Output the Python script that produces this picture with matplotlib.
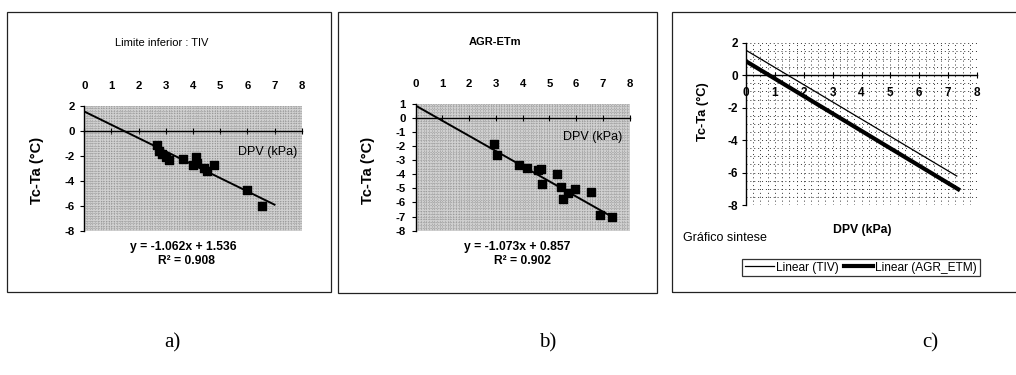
import matplotlib
matplotlib.use("Agg")
import matplotlib.pyplot as plt
from matplotlib.patches import Rectangle
from matplotlib.ticker import MultipleLocator
from matplotlib.lines import Line2D

plt.rcParams['font.family'] = ['Liberation Sans', 'DejaVu Sans']
plt.rcParams['axes.unicode_minus'] = False

# dados lidos do gráfico
# a) Limite inferior : TIV
dpv_tiv = [2.66, 2.76, 2.85, 3.0, 3.13, 3.64, 3.99, 4.11, 4.16, 4.4, 4.5, 4.77, 6.0, 6.54]
tcta_tiv = [-1.12, -1.6, -1.86, -2.13, -2.31, -2.23, -2.71, -2.13, -2.58, -2.98, -3.24, -2.77, -4.76, -5.98]
coef_tiv = (-1.062, 1.536)
r2_tiv = 0.908
xfim_tiv = 7.0

# b) AGR-ETm
dpv_agr = [2.94, 3.03, 3.86, 4.15, 4.58, 4.68, 4.71, 5.27, 5.45, 5.52, 5.7, 5.95, 6.55, 6.89, 7.35]
tcta_agr = [-1.88, -2.66, -3.36, -3.55, -3.72, -3.6, -4.66, -4.02, -4.94, -5.76, -5.36, -5.08, -5.29, -6.89, -7.01]
coef_agr = (-1.073, 0.857)
r2_agr = 0.902
xfim_agr = 7.3

# c) grafico sintese
xfim_c_tiv = 7.3
xfim_c_agr = 7.35

xticks = [0, 1, 2, 3, 4, 5, 6, 7, 8]
yticks_a = [2, 0, -2, -4, -6, -8]
yticks_b = [1, 0, -1, -2, -3, -4, -5, -6, -7, -8]
yticks_c = [2, 0, -2, -4, -6, -8]

W, H = 1016, 375
fig = plt.figure(figsize=(W / 100, H / 100), dpi=100)


def fx(px):
    return px / W


def fy(py):
    return 1 - py / H


# molduras
for x0, y0, x1, y1 in [(7, 12, 331, 292), (338, 12, 657, 293), (672, 12, 1030, 292)]:
    fig.patches.append(Rectangle((fx(x0), fy(y1)), fx(x1 - x0), (y1 - y0) / H,
                                 transform=fig.transFigure, fill=False,
                                 edgecolor='#222222', lw=0.9))


def painel_pontos(ax, xs, ys, coef, xfim, yticks, ylim):
    ax.set_xlim(0, 8)
    ax.set_ylim(*ylim)
    ax.set_facecolor('#cfcfcf')
    ax.xaxis.set_minor_locator(MultipleLocator(0.1))
    ax.yaxis.set_minor_locator(MultipleLocator(0.2))
    ax.grid(which='both', color='#7a7a7a', lw=0.45, ls=':')
    ax.set_axisbelow(True)
    for s in ['top', 'right']:
        ax.spines[s].set_visible(False)
    ax.spines['bottom'].set_position(('data', 0))
    ax.spines['bottom'].set_linewidth(1.0)
    ax.spines['left'].set_linewidth(1.0)
    ax.set_xticks(xticks)
    ax.set_yticks(yticks)
    ax.tick_params(axis='x', which='major', direction='inout', length=5,
                   bottom=True, top=False, labelbottom=False, labeltop=True, pad=8)
    ax.tick_params(axis='y', which='major', direction='out', length=3, pad=4)
    ax.tick_params(which='minor', length=0)
    for lb in ax.get_xticklabels() + ax.get_yticklabels():
        lb.set_fontweight('bold')
        lb.set_fontsize(8.2)
    ax.scatter(xs, ys, marker='s', s=38, color='black', zorder=3)
    a, b = coef
    ax.plot([0, xfim], [b, a * xfim + b], color='black', lw=1.4, zorder=3)


ax1 = fig.add_axes([fx(84.3), fy(231), fx(217.4), 125.3 / H])
painel_pontos(ax1, dpv_tiv, tcta_tiv, coef_tiv, xfim_tiv, yticks_a, (-8, 2))
ax1.text(0.845, 0.633, 'DPV (kPa)', transform=ax1.transAxes, ha='center', va='center',
         fontsize=9)
fig.text(fx(162), fy(43), 'Limite inferior : TIV', ha='center', va='center', fontsize=8)
fig.text(fx(37), fy(170), 'Tc-Ta (°C)', rotation=90, ha='center', va='center',
         fontsize=10.5, fontweight='bold')
fig.text(fx(183), fy(247), f'y = {coef_tiv[0]:.3f}x + {coef_tiv[1]:.3f}', ha='center',
         va='center', fontsize=8.7, fontweight='bold')
fig.text(fx(186), fy(260.5), f'R² = {r2_tiv:.3f}', ha='center', va='center',
         fontsize=8.7, fontweight='bold')

ax2 = fig.add_axes([fx(415.7), fy(230.7), fx(214), 127.1 / H])
painel_pontos(ax2, dpv_agr, tcta_agr, coef_agr, xfim_agr, yticks_b, (-8, 1))
ax2.text(0.8285, 0.736, 'DPV (kPa)', transform=ax2.transAxes, ha='center', va='center',
         fontsize=9)
fig.text(fx(495), fy(42), 'AGR-ETm', ha='center', va='center', fontsize=8,
         fontweight='bold')
fig.text(fx(368), fy(170), 'Tc-Ta (°C)', rotation=90, ha='center', va='center',
         fontsize=10.5, fontweight='bold')
fig.text(fx(517.5), fy(247), f'y = {coef_agr[0]:.3f}x + {coef_agr[1]:.3f}', ha='center',
         va='center', fontsize=8.7, fontweight='bold')
fig.text(fx(523), fy(260.5), f'R² = {r2_agr:.3f}', ha='center', va='center',
         fontsize=8.7, fontweight='bold')

# c)
ax3 = fig.add_axes([fx(746), fy(205), fx(231), 162.3 / H])
ax3.set_xlim(0, 8)
ax3.set_ylim(-8, 2)
ax3.set_facecolor('white')
ax3.xaxis.set_minor_locator(MultipleLocator(0.25))
ax3.yaxis.set_minor_locator(MultipleLocator(0.5))
ax3.grid(which='both', color='#333333', lw=0.7, ls=(0, (1, 3)))
ax3.set_axisbelow(True)
for s in ['top', 'right']:
    ax3.spines[s].set_visible(False)
ax3.spines['bottom'].set_position(('data', 0))
ax3.spines['bottom'].set_linewidth(1.0)
ax3.spines['left'].set_linewidth(1.0)
ax3.set_xticks(xticks)
ax3.set_yticks(yticks_c)
ax3.tick_params(axis='x', which='major', direction='inout', length=5, pad=6)
ax3.tick_params(axis='y', which='major', direction='out', length=3, pad=3)
ax3.tick_params(which='minor', length=0)
for lb in ax3.get_xticklabels() + ax3.get_yticklabels():
    lb.set_fontweight('bold')
    lb.set_fontsize(8.5)
a, b = coef_tiv
ax3.plot([0, xfim_c_tiv], [b, a * xfim_c_tiv + b], color='black', lw=0.9, zorder=3)
a, b = coef_agr
ax3.plot([0, xfim_c_agr], [b, a * xfim_c_agr + b], color='black', lw=3, zorder=3)

fig.text(fx(703), fy(112), 'Tc-Ta (°C)', rotation=90, ha='center', va='center',
         fontsize=9.3, fontweight='bold')
fig.text(fx(862), fy(230), 'DPV (kPa)', ha='center', va='center', fontsize=8.8,
         fontweight='bold')
fig.text(fx(683), fy(238), 'Gráfico sintese', ha='left', va='center', fontsize=9)

handles = [Line2D([], [], color='black', lw=0.9), Line2D([], [], color='black', lw=3)]
leg = fig.legend(handles, ['Linear (TIV)', 'Linear (AGR_ETM)'], ncol=2,
                 loc='center', bbox_to_anchor=(fx(861), fy(267.5)), fontsize=8.6,
                 frameon=True, fancybox=False, handlelength=2.4, handletextpad=0.2,
                 columnspacing=0.4, borderpad=0.25, borderaxespad=0)
leg.get_frame().set_edgecolor('black')
leg.get_frame().set_linewidth(0.9)

for x, t in [(172, 'a)'), (548, 'b)'), (930, 'c)')]:
    fig.text(fx(x), fy(343), t, ha='center', va='center', fontsize=15,
             family='Liberation Serif')

fig.savefig('out.png', dpi=100)
